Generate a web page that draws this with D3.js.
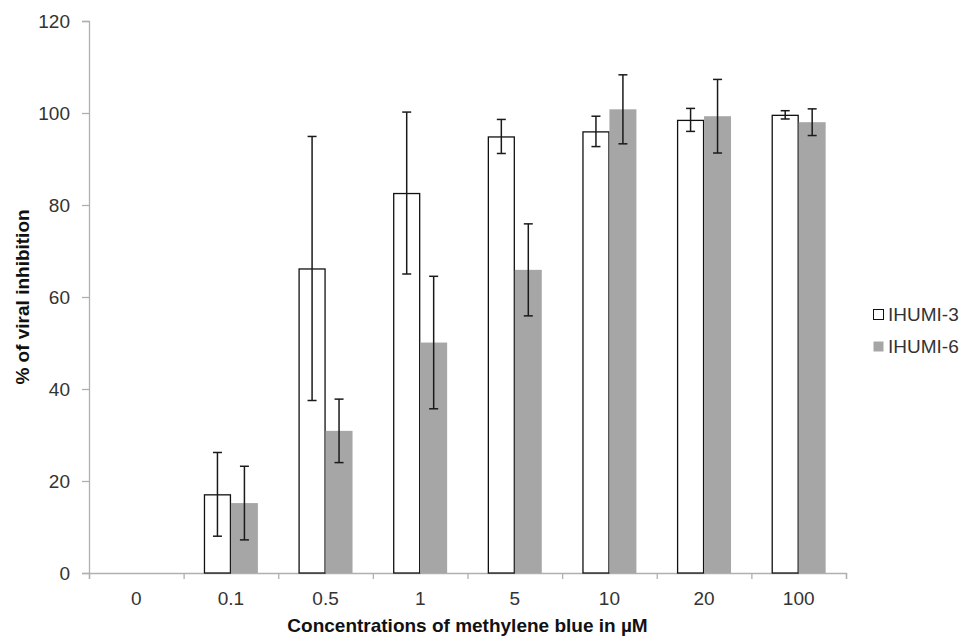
<!DOCTYPE html>
<html>
<head>
<meta charset="utf-8">
<script src="https://cdn.jsdelivr.net/npm/d3@7"></script>
<style>
  body { margin: 0; background: #fff; }
  svg text { font-family: "Liberation Sans", Arial, sans-serif; }
</style>
</head>
<body>
<svg id="chart" width="967" height="641"></svg>
<script>
// Data
const categories = ["0", "0.1", "0.5", "1", "5", "10", "20", "100"];
const seriesNames = ["IHUMI-3", "IHUMI-6"];
const ihumi3 = [0, 17.1, 66.2, 82.6, 94.9, 96.0, 98.5, 99.6];
const ihumi3Err = [0, 9.1, 28.7, 17.6, 3.7, 3.3, 2.5, 0.9];
const ihumi6 = [0, 15.2, 30.9, 50.1, 65.9, 100.8, 99.3, 98.0];
const ihumi6Err = [0, 8.0, 6.9, 14.4, 10.0, 7.5, 8.0, 2.9];
const yTicks = [0, 20, 40, 60, 80, 100, 120];

const margin = { left: 89, top: 21, right: 121, bottom: 68 };
const width = 967, height = 641;

var svg = d3.select("#chart");

var x = d3.scaleBand()
  .domain(categories)
  .range([margin.left, width - margin.right])
  .paddingInner(0.43)
  .paddingOuter(0.215);

var xInner = d3.scaleBand()
  .domain(seriesNames)
  .range([0, x.bandwidth()]);

var y = d3.scaleLinear()
  .domain([0, 120])
  .range([height - margin.bottom, margin.top]);

// axes
var yAxis = svg.append("g")
  .attr("transform", `translate(${margin.left},0)`)
  .call(d3.axisLeft(y).tickValues(yTicks).tickSize(7).tickPadding(12));

var xAxisScale = d3.scaleLinear().domain([0, categories.length]).range(x.range());
var xAxis = svg.append("g")
  .attr("transform", `translate(0,${y(0)})`)
  .call(d3.axisBottom(xAxisScale).ticks(categories.length).tickSize(6).tickFormat(""));

[yAxis, xAxis].forEach(function(a) {
  a.select(".domain").attr("stroke", "#b0b0b0").attr("stroke-width", 1.3);
  a.selectAll(".tick line").attr("stroke", "#b0b0b0").attr("stroke-width", 1.3);
});
yAxis.selectAll(".tick text")
  .attr("font-size", 19).attr("fill", "#333");

svg.append("g").selectAll("text")
  .data(categories)
  .enter().append("text")
  .attr("x", d => x(d) + x.bandwidth() / 2)
  .attr("y", 605)
  .attr("text-anchor", "middle")
  .attr("font-size", 19)
  .attr("fill", "#333")
  .text(d => d);

// bars
const rows = categories.map(function(c, i) {
  return [
    { cat: c, name: seriesNames[0], v: ihumi3[i], e: ihumi3Err[i] },
    { cat: c, name: seriesNames[1], v: ihumi6[i], e: ihumi6Err[i] }
  ];
});

var group = svg.append("g").selectAll("g")
  .data(rows)
  .enter().append("g")
  .attr("transform", d => `translate(${x(d[0].cat)},0)`);

group.selectAll("rect")
  .data(d => d.filter(p => p.v > 0))
  .enter().append("rect")
  .attr("x", d => xInner(d.name) + (d.name === seriesNames[0] ? 0.5 : 0))
  .attr("y", d => y(d.v) + (d.name === seriesNames[0] ? 0.5 : 0))
  .attr("width", d => xInner.bandwidth() - (d.name === seriesNames[0] ? 1 : 0))
  .attr("height", d => y(0) - y(d.v) - (d.name === seriesNames[0] ? 0.5 : 0))
  .attr("fill", d => d.name === seriesNames[0] ? "#fff" : "#a6a6a6")
  .attr("stroke", d => d.name === seriesNames[0] ? "#111" : "none")
  .attr("stroke-width", 1.3);

// error bars
var err = group.selectAll(".err")
  .data(d => d.filter(p => p.v > 0))
  .enter().append("g")
  .attr("class", "err")
  .attr("stroke", "#1a1a1a")
  .attr("stroke-width", 1.5);

err.append("line")
  .attr("x1", d => xInner(d.name) + xInner.bandwidth() / 2)
  .attr("x2", d => xInner(d.name) + xInner.bandwidth() / 2)
  .attr("y1", d => y(d.v + d.e))
  .attr("y2", d => y(d.v - d.e));

[1, -1].forEach(function(s) {
  err.append("line")
    .attr("x1", d => xInner(d.name) + xInner.bandwidth() / 2 - 4.5)
    .attr("x2", d => xInner(d.name) + xInner.bandwidth() / 2 + 4.5)
    .attr("y1", d => y(d.v + s * d.e))
    .attr("y2", d => y(d.v + s * d.e));
});

// axis titles
svg.append("text")
  .attr("x", x.range()[0] + (x.range()[1] - x.range()[0]) / 2)
  .attr("y", 632)
  .attr("text-anchor", "middle")
  .attr("font-size", 19)
  .attr("font-weight", "bold")
  .attr("fill", "#111")
  .text("Concentrations of methylene blue in µM");

svg.append("text")
  .attr("transform", "translate(29,297) rotate(-90)")
  .attr("text-anchor", "middle")
  .attr("font-size", 19)
  .attr("font-weight", "bold")
  .attr("fill", "#111")
  .text("% of viral inhibition");

// legend
var legend = svg.append("g").selectAll("g")
  .data(seriesNames)
  .enter().append("g")
  .attr("transform", (d, i) => `translate(873,${309 + i * 32})`);

legend.append("rect")
  .attr("x", 0.5).attr("y", 0.5)
  .attr("width", 10).attr("height", 10)
  .attr("fill", (d, i) => i === 0 ? "#fff" : "#a6a6a6")
  .attr("stroke", (d, i) => i === 0 ? "#111" : "none")
  .attr("stroke-width", 1);

legend.append("text")
  .attr("x", 15)
  .attr("y", 11.5)
  .attr("font-size", 19)
  .attr("fill", "#333")
  .text(d => d);
</script>
</body>
</html>
